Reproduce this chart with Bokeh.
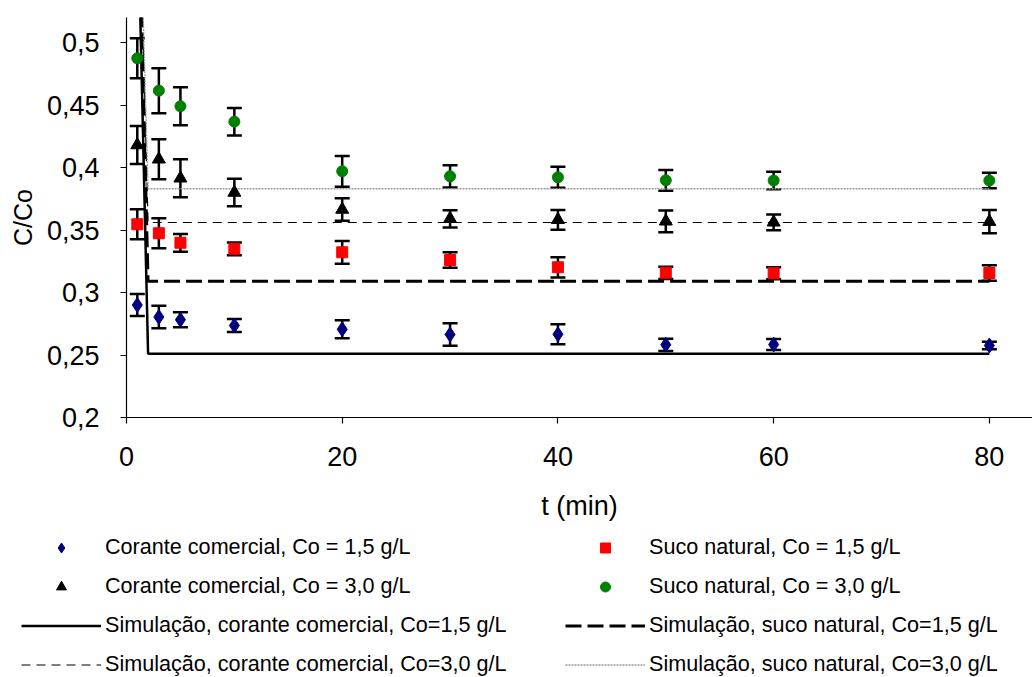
from bokeh.plotting import figure
from bokeh.models import (ColumnDataSource, Whisker, TeeHead, Legend, LegendItem,
                          FixedTicker)
from bokeh.embed import file_html
from bokeh.resources import INLINE

# ---------------- data ----------------
t = [1, 3, 5, 10, 20, 30, 40, 50, 60, 80]

corante_15 = [0.2900, 0.2804, 0.2782, 0.2736, 0.2706, 0.2664, 0.2666, 0.2582, 0.2584, 0.2576]
corante_15_err = [0.0088, 0.0090, 0.0060, 0.0052, 0.0072, 0.0090, 0.0080, 0.0049, 0.0044, 0.0030]

suco_15 = [0.3546, 0.3474, 0.3398, 0.3350, 0.3322, 0.3260, 0.3202, 0.3158, 0.3154, 0.3156]
suco_15_err = [0.0120, 0.0120, 0.0071, 0.0051, 0.0091, 0.0062, 0.0081, 0.0049, 0.0048, 0.0062]

corante_30 = [0.4180, 0.4066, 0.3914, 0.3800, 0.3664, 0.3590, 0.3582, 0.3570, 0.3562, 0.3567]
corante_30_err = [0.0152, 0.0160, 0.0152, 0.0110, 0.0090, 0.0069, 0.0079, 0.0087, 0.0063, 0.0093]

suco_30 = [0.4874, 0.4615, 0.4490, 0.4367, 0.3970, 0.3930, 0.3922, 0.3898, 0.3896, 0.3896]
suco_30_err = [0.0160, 0.0180, 0.0152, 0.0110, 0.0123, 0.0089, 0.0084, 0.0083, 0.0070, 0.0062]

sim_t = [0, 2, 80]
sim_corante_15 = [1.0, 0.251, 0.251]
sim_suco_15 = [1.0, 0.309, 0.309]
sim_corante_30 = [1.0, 0.356, 0.356]
sim_suco_30 = [1.0, 0.383, 0.383]

x_ticks = [0, 20, 40, 60, 80]
x_tick_labels = ["0", "20", "40", "60", "80"]
y_ticks = [0.2, 0.25, 0.3, 0.35, 0.4, 0.45, 0.5]
y_tick_labels = ["0,2", "0,25", "0,3", "0,35", "0,4", "0,45", "0,5"]

labels = [
    "Corante comercial, Co = 1,5 g/L",
    "Suco natural, Co = 1,5 g/L",
    "Corante comercial, Co = 3,0 g/L",
    "Suco natural, Co = 3,0 g/L",
    "Simulação, corante comercial, Co=1,5 g/L",
    "Simulação, suco natural, Co=1,5 g/L",
    "Simulação, corante comercial, Co=3,0 g/L",
    "Simulação, suco natural, Co=3,0 g/L",
]

FONT = "Liberation Sans"

# styles
marker_styles = [("diamond", "#000080", 15), ("square", "#ff0000", 11),
                 ("triangle", "black", 13), ("circle", "#008000", 11)]
line_styles = [dict(line_color="black", line_width=2.5),
               dict(line_color="black", line_width=3, line_dash="16 6"),
               dict(line_color="black", line_width=1.2, line_dash="9 6"),
               dict(line_color="#9a9a9a", line_width=1.3, line_dash="2 1")]

# ---------------- main figure ----------------
p = figure(width=1032, height=535, x_range=(0, 84), y_range=(0.2, 0.52),
           output_backend="svg", toolbar_location=None,
           min_border_left=126, min_border_right=0, min_border_top=17,
           min_border_bottom=118)
p.outline_line_color = None
p.grid.visible = False
p.background_fill_color = "white"
p.border_fill_color = "white"

for ax in (p.xaxis[0], p.yaxis[0]):
    ax.axis_line_color = "black"
    ax.axis_line_width = 1.2
    ax.major_tick_line_color = "black"
    ax.major_tick_line_width = 1.2
    ax.major_tick_in = 0
    ax.major_tick_out = 6
    ax.minor_tick_line_color = None
    ax.major_label_text_font = FONT
    ax.major_label_text_font_size = "27px"
    ax.major_label_text_color = "black"
    ax.axis_label_text_font = FONT
    ax.axis_label_text_font_style = "normal"
    ax.axis_label_text_color = "black"

p.xaxis.ticker = FixedTicker(ticks=x_ticks)
p.xaxis.major_label_overrides = dict(zip(x_ticks, x_tick_labels))
p.yaxis.ticker = FixedTicker(ticks=y_ticks)
p.yaxis.major_label_overrides = dict(zip(y_ticks, y_tick_labels))
p.xaxis.major_label_standoff = 23
p.yaxis.major_label_standoff = 21
p.xaxis.axis_label = "t (min)"
p.yaxis.axis_label = "C/Co"
p.xaxis.axis_label_text_font_size = "27px"
p.yaxis.axis_label_text_font_size = "25px"
p.xaxis.axis_label_standoff = 22
p.yaxis.axis_label_standoff = 7

# simulation lines
sims = [sim_corante_15, sim_suco_15, sim_corante_30, sim_suco_30]
for vals, st in zip(sims, line_styles):
    p.line(sim_t, vals, **st)

# error bars + markers
sources = []
series = [(corante_15, corante_15_err), (suco_15, suco_15_err),
          (corante_30, corante_30_err), (suco_30, suco_30_err)]
for (vals, errs), (marker, color, size) in zip(series, marker_styles):
    src = ColumnDataSource(dict(
        t=t, v=vals,
        upper=[v + e for v, e in zip(vals, errs)],
        lower=[v - e for v, e in zip(vals, errs)],
    ))
    sources.append(src)
    w = Whisker(base="t", upper="upper", lower="lower", source=src,
                line_color="black", line_width=2.5, level="underlay",
                upper_head=TeeHead(size=15, line_width=2.5, line_color="black"),
                lower_head=TeeHead(size=15, line_width=2.5, line_color="black"))
    p.add_layout(w)
    p.scatter("t", "v", source=src, marker=marker, size=size,
              fill_color=color, line_color=color)

# ---------------- legend figure (series drawn off-range, legend only) ----------------
pl = figure(width=1032, height=142, x_range=(1000, 1001), y_range=(1000, 1001),
            output_backend="svg", toolbar_location=None,
            x_axis_location=None, y_axis_location=None,
            min_border=0, min_border_left=0, min_border_right=0,
            min_border_top=0, min_border_bottom=0)
pl.grid.visible = False
pl.outline_line_color = None
pl.border_fill_color = "white"
pl.background_fill_color = "white"

leg_m = [pl.scatter("t", "v", source=src, marker=m, size=s, fill_color=c, line_color=c)
         for src, (m, c, s) in zip(sources, marker_styles)]
leg_l = [pl.line(sim_t, vals, **st) for vals, st in zip(sims, line_styles)]
renderers = [leg_m[0], leg_m[1], leg_m[2], leg_m[3],
             leg_l[0], leg_l[1], leg_l[2], leg_l[3]]
items = [LegendItem(label=l, renderers=[r]) for l, r in zip(labels, renderers)]
legend = Legend(items=items, location=(21, 0), orientation="horizontal", ncols=2,
                glyph_width=80, glyph_height=25, label_height=25, label_width=447,
                spacing=13, padding=0, margin=0, label_standoff=4,
                border_line_color=None, background_fill_alpha=0,
                label_text_font=FONT, label_text_font_size="21.6px",
                label_text_color="black")
pl.add_layout(legend)

open("out.html", "w").write(file_html([p, pl], INLINE))
